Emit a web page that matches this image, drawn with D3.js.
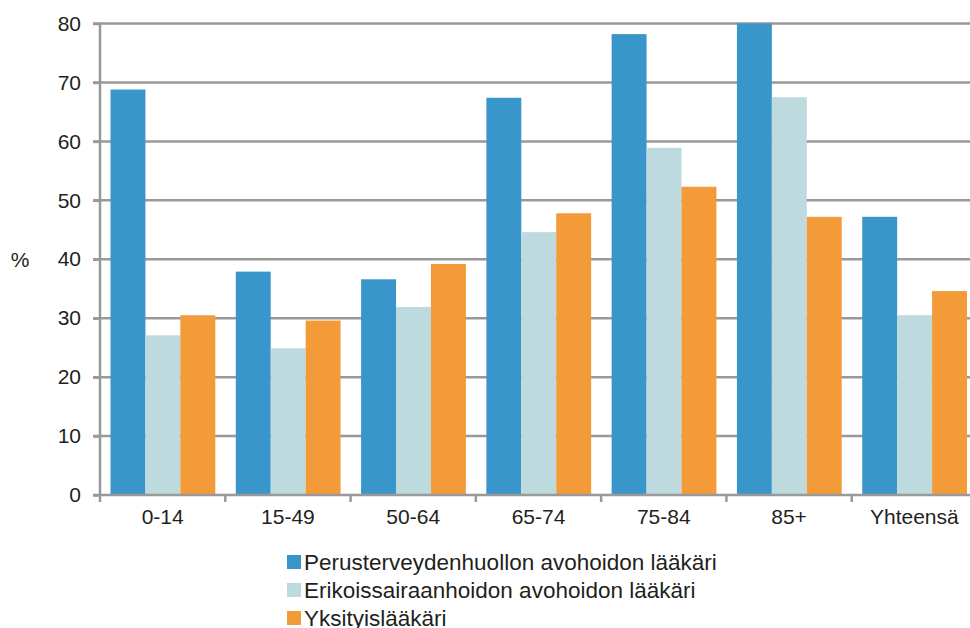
<!DOCTYPE html>
<html>
<head>
<meta charset="utf-8">
<script src="https://d3js.org/d3.v7.min.js"></script>
<style>
  body { margin: 0; background: #fff; }
  text { font-family: "Liberation Sans", Arial, sans-serif; fill: #231f20; }
</style>
</head>
<body>
<svg width="970" height="628"></svg>
<script>
// data
var categories = ["0-14", "15-49", "50-64", "65-74", "75-84", "85+", "Yhteensä"];
var seriesNames = ["Perusterveydenhuollon avohoidon lääkäri", "Erikoissairaanhoidon avohoidon lääkäri", "Yksityislääkäri"];
var perus = [68.8, 37.9, 36.6, 67.4, 78.2, 80.0, 47.2];
var erikois = [27.1, 24.9, 31.9, 44.6, 58.9, 67.5, 30.5];
var yksityis = [30.5, 29.6, 39.2, 47.8, 52.3, 47.2, 34.6];
var yTicks = [0, 10, 20, 30, 40, 50, 60, 70, 80];
var colors = ["#3996cb", "#bddbde", "#f39a39"];

var series = [perus, erikois, yksityis];
var rows = categories.map(function(c, i) {
  return { cat: c, vals: series.map(function(s) { return s[i]; }) };
});

var svg = d3.select("svg");
var mLeft = 100, mRight = 977, mTop = 23.5, mBottom = 495;

var x0 = d3.scaleBand().domain(categories).range([mLeft, mRight]);
var x1 = d3.scaleBand().domain([0, 1, 2]).range([10.5, x0.bandwidth() - 10]);
var y = d3.scaleLinear().domain([0, 80]).range([mBottom, mTop]);

// gridlines
svg.append("g")
  .selectAll("line")
  .data(yTicks.filter(function(d) { return d > 0; }))
  .enter().append("line")
  .attr("x1", 93).attr("x2", 970)
  .attr("y1", function(d) { return y(d); })
  .attr("y2", function(d) { return y(d); })
  .attr("stroke", "#999")
  .attr("stroke-width", 2.5);

// bars
var groups = svg.append("g").selectAll("g")
  .data(rows)
  .enter().append("g")
  .attr("transform", function(d) { return "translate(" + x0(d.cat) + ",0)"; });

groups.selectAll("rect")
  .data(function(d) { return d.vals.map(function(v, k) { return { k: k, v: v }; }); })
  .enter().append("rect")
  .attr("x", function(d) { return x1(d.k); })
  .attr("width", x1.bandwidth())
  .attr("y", function(d) { return y(d.v); })
  .attr("height", function(d) { return mBottom - y(d.v); })
  .attr("fill", function(d) { return colors[d.k]; });

// y axis
var yAxis = svg.append("g")
  .attr("transform", "translate(" + mLeft + ",0)")
  .call(d3.axisLeft(y).tickValues(yTicks).tickSize(7).tickPadding(12));
yAxis.select(".domain").attr("stroke", "#999").attr("stroke-width", 2.5).attr("d", "M0," + mTop + "V" + mBottom);
yAxis.selectAll(".tick line").attr("stroke", "#999").attr("stroke-width", 2.5);
yAxis.selectAll(".tick text").style("font-size", "21px").attr("fill", "#231f20");

// x axis
var xAxis = svg.append("g")
  .attr("transform", "translate(0," + mBottom + ")")
  .call(d3.axisBottom(x0).tickSize(0).tickPadding(14));
xAxis.select(".domain").attr("stroke", "#999").attr("stroke-width", 2.5).attr("d", "M" + (mLeft - 7) + ",0H970");
xAxis.selectAll(".tick text").style("font-size", "21px").attr("fill", "#231f20");

// x tick marks at band edges
svg.append("g")
  .selectAll("line")
  .data(categories.slice(1))
  .enter().append("line")
  .attr("x1", function(d) { return x0(d); })
  .attr("x2", function(d) { return x0(d); })
  .attr("y1", mBottom).attr("y2", mBottom + 7)
  .attr("stroke", "#999").attr("stroke-width", 2.5);
svg.append("line")
  .attr("x1", mLeft).attr("x2", mLeft).attr("y1", mBottom).attr("y2", mBottom + 7)
  .attr("stroke", "#999").attr("stroke-width", 2.5);

// % label
svg.append("text")
  .attr("x", 20).attr("y", 267)
  .attr("text-anchor", "middle")
  .style("font-size", "21px")
  .text("%");

// legend
var legend = svg.append("g").attr("transform", "translate(287,552)");
var li = legend.selectAll("g")
  .data(seriesNames)
  .enter().append("g")
  .attr("transform", function(d, i) { return "translate(0," + (i * 28) + ")"; });
li.append("rect")
  .attr("width", 14).attr("height", 14)
  .attr("y", 3)
  .attr("fill", function(d, i) { return colors[i]; });
li.append("text")
  .attr("x", 17).attr("y", 18)
  .style("font-size", "22.5px")
  .text(function(d) { return d; });
</script>
</body>
</html>
